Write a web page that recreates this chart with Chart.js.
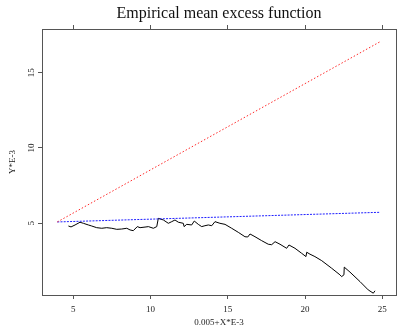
<!DOCTYPE html>
<html>
<head>
<meta charset="utf-8">
<title>Empirical mean excess function</title>
<script src="https://cdn.jsdelivr.net/npm/chart.js@4"></script>
<style>
  html, body { margin: 0; padding: 0; background: #fff; }
  #wrap { width: 397px; height: 325px; }
</style>
</head>
<body>
<div id="wrap"><canvas id="mefChart" width="397" height="325"></canvas></div>
<script>
// mean excess curve (threshold, mean excess)
const thresholds = [4.68, 4.85, 5.11, 5.43, 5.65, 5.97, 6.19, 6.51, 6.84, 7.16, 7.49, 7.81, 8.13, 8.46, 8.67, 8.88, 9.14, 9.32, 9.64, 9.86,
    10.18, 10.40, 10.50, 10.83, 11.15, 11.37, 11.58, 11.80, 12.12, 12.17, 12.34, 12.66, 12.83, 13.09, 13.31, 13.52, 13.74, 13.96, 14.17, 14.49,
    14.82, 15.25, 15.68, 16.11, 16.29, 16.44, 16.76, 17.19, 17.62, 17.84, 18.06, 18.38, 18.81, 18.96, 19.35, 19.78, 20.06, 20.11, 20.32, 20.64,
    21.08, 21.72, 22.26, 22.37, 22.52, 22.54, 22.91, 23.56, 24.09, 24.42, 24.53];
const meanExcess = [4.82, 4.76, 4.89, 5.07, 5.00, 4.89, 4.82, 4.71, 4.67, 4.71, 4.67, 4.60, 4.62, 4.67, 4.56, 4.51, 4.78, 4.71, 4.75, 4.78,
    4.67, 4.78, 5.33, 5.22, 5.00, 5.11, 5.22, 5.07, 5.00, 4.78, 4.93, 4.89, 5.15, 4.93, 4.78, 4.84, 4.89, 4.84, 5.11, 5.00,
    4.93, 4.67, 4.40, 4.11, 4.09, 4.29, 4.11, 3.85, 3.61, 3.58, 3.78, 3.61, 3.34, 3.56, 3.34, 3.01, 2.79, 3.08, 2.95, 2.79,
    2.52, 2.02, 1.58, 1.46, 1.58, 2.09, 1.76, 1.13, 0.58, 0.36, 0.52];

// the two reference lines
const lineX = [3.96, 24.85];
const redY = [5.09, 17.05];
const blueY = [5.09, 5.73];

const xTicks = [5, 10, 15, 20, 25];
const yTicks = [5, 10, 15];

const titleText = 'Empirical mean excess function';
const xTitle = '0.005+X*E-3';
const yTitle = 'Y*E-3';

function toPoints(xs, ys) {
    return xs.map((x, i) => ({ x: x, y: ys[i] }));
}

const serif = '"Liberation Serif", "Times New Roman", serif';
const axisColor = '#555';

function setTicks(values) {
    return scale => { scale.ticks = values.map(v => ({ value: v })); };
}

const titlePlugin = {
    id: 'mainTitle',
    afterDraw(chart) {
        const ctx = chart.ctx;
        const area = chart.chartArea;
        ctx.save();
        ctx.font = '16px ' + serif;
        ctx.fillStyle = '#111';
        ctx.textAlign = 'center';
        ctx.textBaseline = 'middle';
        ctx.fillText(titleText, (area.left + area.right) / 2, 14);
        ctx.restore();
    }
};

const gridOpts = { drawOnChartArea: false, drawTicks: true, tickLength: 4, color: axisColor };
const borderOpts = { display: true, color: axisColor, width: 1 };

const ctx = document.getElementById('mefChart').getContext('2d');
new Chart(ctx, {
    type: 'scatter',
    data: {
        datasets: [
            {
                label: 'red line',
                data: toPoints(lineX, redY),
                showLine: true,
                borderColor: 'rgb(255, 40, 40)',
                borderWidth: 1,
                borderDash: [1.5, 2],
                pointRadius: 0
            },
            {
                label: 'blue line',
                data: toPoints(lineX, blueY),
                showLine: true,
                borderColor: 'rgb(30, 30, 255)',
                borderWidth: 1,
                borderDash: [2, 1.2],
                pointRadius: 0
            },
            {
                label: 'mean excess',
                data: toPoints(thresholds, meanExcess),
                showLine: true,
                borderColor: '#000',
                borderWidth: 1,
                pointRadius: 0,
                tension: 0
            }
        ]
    },
    options: {
        responsive: false,
        animation: false,
        layout: { padding: 0 },
        plugins: {
            legend: { display: false },
            tooltip: { enabled: false }
        },
        scales: {
            x: {
                type: 'linear',
                position: 'bottom',
                min: 2.97,
                max: 25.89,
                afterBuildTicks: setTicks(xTicks),
                afterFit: scale => { scale.height = 30; },
                grid: gridOpts,
                border: borderOpts,
                ticks: { color: '#222', font: { family: serif, size: 9 }, padding: 5, maxRotation: 0 },
                title: { display: true, text: xTitle, color: '#222', font: { family: serif, size: 9, lineHeight: 0.6 }, padding: 0 }
            },
            xTop: {
                type: 'linear',
                axis: 'x',
                position: 'top',
                min: 2.97,
                max: 25.89,
                afterBuildTicks: setTicks(xTicks),
                afterFit: scale => { scale.height = 29; },
                grid: gridOpts,
                border: borderOpts,
                ticks: { display: false }
            },
            y: {
                type: 'linear',
                position: 'left',
                min: 0.24,
                max: 17.9,
                afterBuildTicks: setTicks(yTicks),
                afterFit: scale => { scale.width = 42; },
                grid: gridOpts,
                border: borderOpts,
                ticks: { color: '#222', font: { family: serif, size: 9 }, padding: 2, minRotation: 90, maxRotation: 90, crossAlign: 'center' },
                title: { display: true, text: yTitle, color: '#222', font: { family: serif, size: 9 }, padding: { top: 7 } }
            },
            yRight: {
                type: 'linear',
                axis: 'y',
                position: 'right',
                min: 0.24,
                max: 17.9,
                afterBuildTicks: setTicks(yTicks),
                afterFit: scale => { scale.width = 1; },
                grid: gridOpts,
                border: borderOpts,
                ticks: { display: false }
            }
        }
    },
    plugins: [titlePlugin]
});
</script>
</body>
</html>
